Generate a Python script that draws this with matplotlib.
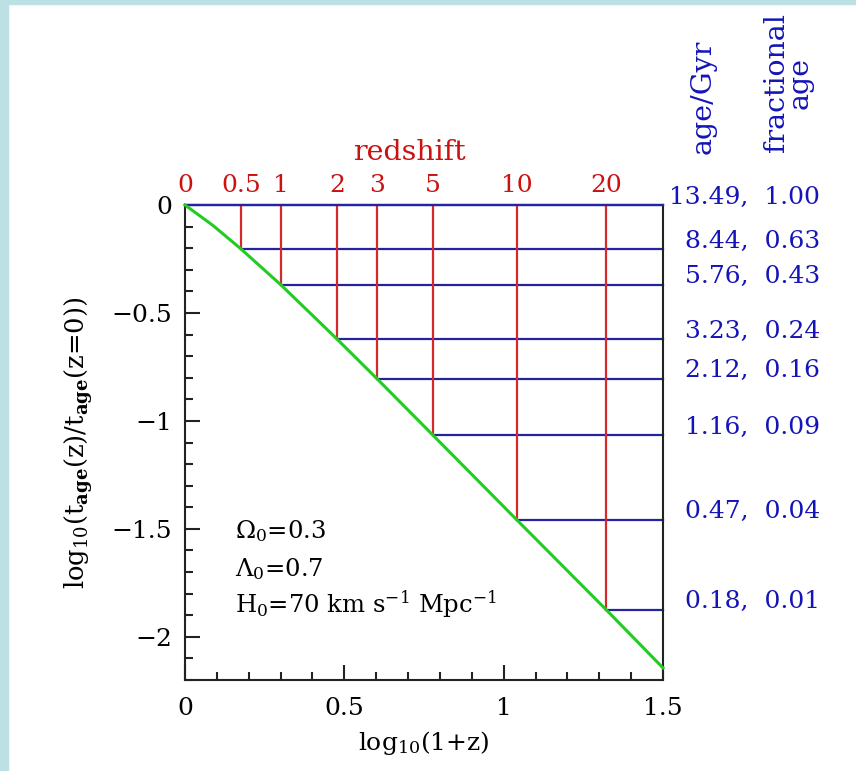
import numpy as np
import matplotlib
matplotlib.use("Agg")
import matplotlib.pyplot as plt
from matplotlib.patches import Rectangle
from matplotlib.ticker import MultipleLocator
import matplotlib.transforms as mtrans

plt.rcParams['font.family'] = ['DejaVu Serif']
plt.rcParams['mathtext.fontset'] = 'dejavuserif'

# ---- data ----
redshifts = [0, 0.5, 1, 2, 3, 5, 10, 20]
z_labels = ['0', '0.5', '1', '2', '3', '5', '10', '20']
ages_gyr = [13.49, 8.44, 5.76, 3.23, 2.12, 1.16, 0.47, 0.18]
frac_age = [1.00, 0.63, 0.43, 0.24, 0.16, 0.09, 0.04, 0.01]
# green curve points: (log10(1+z), log10 t/t0)
curve_x = [0.0, 0.088, 0.176, 0.301, 0.477, 0.602, 0.778, 1.041, 1.322, 1.5]
curve_y = [0.0, -0.095, -0.204, -0.370, -0.621, -0.804, -1.066, -1.458, -1.875, -2.144]
param_lines = [r'$\Omega_0$=0.3', r'$\Lambda_0$=0.7',
               r'H$_0$=70 km s$^{-1}$ Mpc$^{-1}$']

W, H = 856, 771
fig = plt.figure(figsize=(W/100, H/100), dpi=100)
fig.patch.set_facecolor('white')
border = '#bde0e4'
fig.add_artist(Rectangle((0, 0), 8/W, 1, transform=fig.transFigure, color=border, zorder=0))
fig.add_artist(Rectangle((0, 1-4/H), 1, 4/H, transform=fig.transFigure, color=border, zorder=0))

L, R, T, B = 185, 663, 205, 680
ax = fig.add_axes([L/W, 1-B/H, (R-L)/W, (B-T)/H])
ax.set_xlim(0, 1.5)
ax.set_ylim(-2.2, 0)

RED = '#d42a2a'
REDT = '#cc1111'
BLUE = '#2424a0'
BLUET = '#1414b8'
GREEN = '#22cc22'

FS_NUM = 18
FS_WORD = 20.5

xz = np.log10(1 + np.array(redshifts, dtype=float))
yz = np.log10(np.array(ages_gyr) / ages_gyr[0])

for x, y in zip(xz, yz):
    if x > 0:
        ax.plot([x, x], [0, y], color=RED, lw=1.6, zorder=2)
    ax.plot([x, 1.5], [y, y], color=BLUE, lw=1.6, zorder=2, clip_on=False)
ax.plot(curve_x, curve_y, color=GREEN, lw=2.2, zorder=3, clip_on=False)

# spines / ticks
for s in ['left', 'bottom', 'right']:
    ax.spines[s].set_linewidth(1.5)
    ax.spines[s].set_color('#222222')
ax.spines['top'].set_color(BLUE)
ax.spines['top'].set_linewidth(1.6)
ax.xaxis.set_major_locator(MultipleLocator(0.5))
ax.xaxis.set_minor_locator(MultipleLocator(0.1))
ax.yaxis.set_major_locator(MultipleLocator(0.5))
ax.yaxis.set_minor_locator(MultipleLocator(0.1))
ax.tick_params(which='both', direction='in', top=False, right=False, color='#222222')
ax.tick_params(which='major', length=11, width=1.5, labelsize=FS_NUM)
ax.tick_params(which='minor', length=6, width=1.5)
ax.tick_params(axis='x', which='major', pad=12)
ax.tick_params(axis='y', which='major', pad=9)
ax.set_xticks([0, 0.5, 1, 1.5])
ax.set_xticklabels(['0', '0.5', '1', '1.5'])
ax.set_yticks([0, -0.5, -1, -1.5, -2])
ax.set_yticklabels(['0', '\u22120.5', '\u22121', '\u22121.5', '\u22122'])

ax.set_xlabel(r'log$_{10}$(1+z)', fontsize=18, labelpad=7)
ax.set_ylabel(r'log$_{10}$(t$_{\mathbf{age}}$(z)/t$_{\mathbf{age}}$(z=0))', fontsize=18.5, labelpad=12)

# top redshift labels
blend = mtrans.blended_transform_factory(ax.transData, fig.transFigure)
for x, lab in zip(xz, z_labels):
    ax.text(x, 1-185/H, lab, transform=blend, color=REDT, fontsize=FS_NUM,
            ha='center', va='center')
ax.text(0.703, 1-152/H, 'redshift', transform=blend, color=REDT, fontsize=FS_WORD,
        ha='center', va='center')

# right labels
off = mtrans.offset_copy(ax.transData, fig=fig, x=0, y=8, units='dots')
blendR = mtrans.blended_transform_factory(fig.transFigure, off)
for y, a, f in zip(yz, ages_gyr, frac_age):
    ax.text(820/W, y, f'{a:.2f},  {f:.2f}', transform=blendR, color=BLUET,
            fontsize=FS_NUM, ha='right', va='center')

fig.text(703/W, 1-97/H, 'age/Gyr', rotation=90, color=BLUET, fontsize=FS_WORD,
         ha='center', va='center')
fig.text(788/W, 1-83/H, 'fractional\nage', rotation=90, color=BLUET, fontsize=FS_WORD,
         ha='center', va='center', multialignment='center', linespacing=0.85)

# parameter text
for i, t in enumerate(param_lines):
    ax.text(0.157, [-1.508, -1.684, -1.847][i], t, fontsize=17.5, ha='left', va='center')

fig.savefig('out.png', dpi=100)
